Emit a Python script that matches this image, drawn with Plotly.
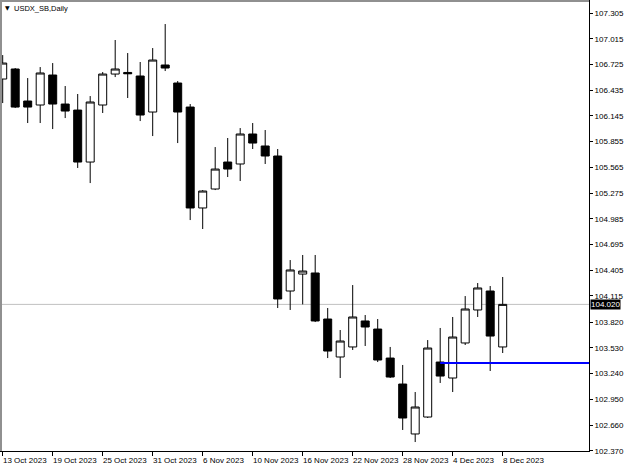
import plotly.graph_objects as go

dates = ["2023-10-13", "2023-10-16", "2023-10-17", "2023-10-18", "2023-10-19", "2023-10-20",
         "2023-10-23", "2023-10-24", "2023-10-25", "2023-10-26", "2023-10-27",
         "2023-10-30", "2023-10-31", "2023-11-01", "2023-11-02", "2023-11-03",
         "2023-11-06", "2023-11-07", "2023-11-08", "2023-11-09", "2023-11-10",
         "2023-11-13", "2023-11-14", "2023-11-15", "2023-11-16", "2023-11-17",
         "2023-11-20", "2023-11-21", "2023-11-22", "2023-11-23", "2023-11-24",
         "2023-11-27", "2023-11-28", "2023-11-29", "2023-11-30", "2023-12-01",
         "2023-12-04", "2023-12-05", "2023-12-06", "2023-12-07", "2023-12-08"]

opens = [106.561, 106.674, 106.313, 106.268, 106.606, 106.279,
         106.211, 105.625, 106.268, 106.617, 106.635,
         106.595, 106.189, 106.719, 106.516, 106.245,
         105.107, 105.321, 105.625, 105.603, 105.941,
         105.806, 105.693, 104.171, 104.362, 104.374,
         103.855, 103.427, 103.540, 103.833, 103.742,
         103.415, 103.122, 102.559, 102.750, 103.370,
         103.190, 103.585, 103.957, 104.171, 103.540]
highs = [106.831, 106.685, 106.572, 106.696, 106.741, 106.482,
         106.392, 106.369, 106.640, 107.001, 106.854,
         106.753, 106.910, 107.181, 106.538, 106.279,
         105.309, 105.794, 105.896, 106.008, 106.065,
         105.986, 105.772, 104.520, 104.577, 104.577,
         103.979, 103.731, 104.238, 103.900, 103.855,
         103.540, 103.337, 103.032, 103.618, 103.754,
         103.878, 104.114, 104.261, 104.227, 104.329]
lows = [106.290, 106.234, 106.065, 106.065, 105.997, 106.121,
        105.558, 105.388, 106.178, 106.583, 106.347,
        106.087, 105.918, 106.651, 105.839, 104.971,
        104.870, 105.309, 105.456, 105.411, 105.772,
        105.603, 103.979, 103.957, 104.020, 103.821,
        103.415, 103.190, 103.506, 103.551, 103.370,
        103.190, 102.604, 102.468, 102.739, 103.134,
        103.032, 103.562, 103.878, 103.269, 103.472]
closes = [106.741, 106.245, 106.245, 106.629, 106.279, 106.200,
          105.625, 106.302, 106.617, 106.674, 106.620,
          106.155, 106.775, 106.685, 106.189, 105.107,
          105.298, 105.546, 105.546, 105.941, 105.839,
          105.693, 104.081, 104.408, 104.396, 103.833,
          103.494, 103.607, 103.878, 103.765, 103.393,
          103.201, 102.739, 102.863, 103.528, 103.212,
          103.652, 103.968, 104.205, 103.663, 104.020]

tick_dates = ["2023-10-13", "2023-10-19", "2023-10-25", "2023-10-31", "2023-11-06", "2023-11-10",
              "2023-11-16", "2023-11-22", "2023-11-28", "2023-12-04", "2023-12-08"]
tick_labels = ["13 Oct 2023", "19 Oct 2023", "25 Oct 2023", "31 Oct 2023", "6 Nov 2023", "10 Nov 2023",
               "16 Nov 2023", "22 Nov 2023", "28 Nov 2023", "4 Dec 2023", "8 Dec 2023"]

y_ticks = [107.305, 107.015, 106.725, 106.435, 106.145, 105.855, 105.565, 105.275, 104.985,
           104.695, 104.405, 104.115, 103.820, 103.530, 103.240, 102.950, 102.660, 102.370]
y_tick_labels = ["107.305", "107.015", "106.725", "106.435", "106.145", "105.855", "105.565",
                 "105.275", "104.985", "104.695", "104.405", "104.115", "103.820", "103.530",
                 "103.240", "102.950", "102.660", "102.370"]

last_price = 104.020
last_price_label = "104.020"
level_price = 103.359
level_start = "2023-12-01"
chart_title = "USDX_SB,Daily"

x_range = [-0.216, 46.904]
y_range = [102.367, 107.452]

FONT = "Liberation Sans, Arial, sans-serif"

fig = go.Figure()
fig.add_trace(go.Candlestick(
    x=dates, open=opens, high=highs, low=lows, close=closes,
    increasing=dict(line=dict(color="black", width=1), fillcolor="white"),
    decreasing=dict(line=dict(color="black", width=1), fillcolor="black"),
    whiskerwidth=0, showlegend=False, hoverinfo="skip",
))

shapes = [
    dict(type="line", xref="paper", x0=0, x1=1, yref="y", y0=last_price, y1=last_price,
         line=dict(color="#c0c0c0", width=1), layer="below"),
    dict(type="line", xref="x", x0=dates.index(level_start), x1=x_range[1], yref="y",
         y0=level_price, y1=level_price, line=dict(color="#0000ff", width=2), layer="above"),
    dict(type="line", xref="paper", x0=0, x1=0, yref="paper", y0=0, y1=1,
         line=dict(color="#909090", width=4), layer="above"),
    dict(type="line", xref="paper", x0=0, x1=1, yref="paper", y0=1, y1=1,
         line=dict(color="#909090", width=4), layer="above"),
]

annotations = []
for d, t in zip(tick_dates, tick_labels):
    annotations.append(dict(x=d, xref="x", y=0, yref="paper", text=t, showarrow=False,
                            xanchor="left", yanchor="top", xshift=-2, yshift=-3,
                            font=dict(family=FONT, size=8, color="black")))
annotations.append(dict(x=1, xref="paper", y=last_price, yref="y", text=last_price_label,
                        showarrow=False, xanchor="left", yanchor="middle", xshift=1,
                        bgcolor="black", borderpad=0, height=9,
                        font=dict(family=FONT, size=8, color="white")))
annotations.append(dict(x=0, xref="paper", y=1, yref="paper", text="▼", showarrow=False,
                        xanchor="left", yanchor="top", xshift=3, yshift=-2,
                        font=dict(family="DejaVu Sans", size=6, color="black")))
annotations.append(dict(x=0, xref="paper", y=1, yref="paper", text=chart_title, showarrow=False,
                        xanchor="left", yanchor="top", xshift=12, yshift=-2,
                        font=dict(family=FONT, size=7.5, color="black")))

fig.update_layout(
    width=625, height=469,
    margin=dict(l=0, r=36, t=0, b=18),
    paper_bgcolor="white", plot_bgcolor="white",
    showlegend=False,
    boxgap=0.36, boxgroupgap=0,
    shapes=shapes, annotations=annotations,
    xaxis=dict(type="category", range=x_range, rangeslider=dict(visible=False),
               showgrid=False, zeroline=False, showline=True, linecolor="black", linewidth=1,
               ticks="outside", ticklen=4, tickcolor="black", tickwidth=1,
               tickvals=tick_dates, showticklabels=False, fixedrange=True),
    yaxis=dict(side="right", range=y_range, showgrid=False, zeroline=False,
               showline=True, linecolor="black", linewidth=1,
               ticks="outside", ticklen=3, tickcolor="black", tickwidth=1,
               tickvals=y_ticks, ticktext=y_tick_labels,
               tickfont=dict(family=FONT, size=8, color="black"), fixedrange=True),
)

fig.write_html("out.html", config={"displayModeBar": False})
